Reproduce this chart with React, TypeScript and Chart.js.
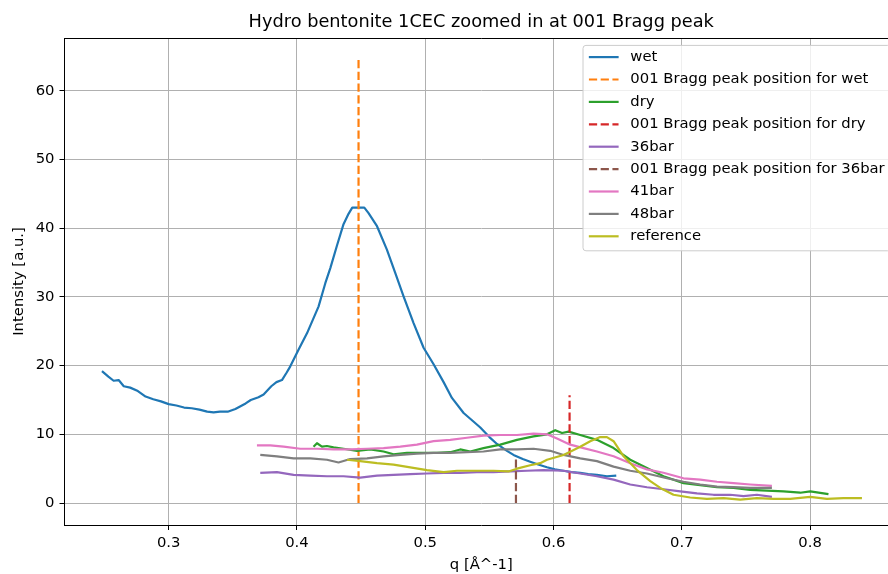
import React, { useEffect, useRef } from 'react';
import { Chart, registerables } from 'chart.js';

Chart.register(...registerables);

// ---- text ----
const chartTitle = 'Hydro bentonite 1CEC zoomed in at 001 Bragg peak';
const xAxisTitle = 'q [Å^-1]';
const yAxisTitle = 'Intensity [a.u.]';

// ---- ticks ----
const xTickValues = [0.3, 0.4, 0.5, 0.6, 0.7, 0.8];
const xTickLabels = ['0.3', '0.4', '0.5', '0.6', '0.7', '0.8'];
const yTickValues = [0, 10, 20, 30, 40, 50, 60];
const yTickLabels = ['0', '10', '20', '30', '40', '50', '60'];
const xRange = [0.2188, 0.8685];
const yRange = [-3.2, 67.7];

// ---- series: [q, intensity] ----
const wet: [number, number][] = [
  [0.2480, 19.2], [0.2530, 18.4], [0.2571, 17.8], [0.2610, 17.9], [0.2650, 17.0], [0.2700, 16.8],
  [0.2760, 16.3], [0.2820, 15.5], [0.2880, 15.1], [0.2940, 14.8], [0.3000, 14.4], [0.3060, 14.2],
  [0.3120, 13.9], [0.3180, 13.8], [0.3240, 13.6], [0.3300, 13.3], [0.3350, 13.2], [0.3400, 13.3],
  [0.3460, 13.3], [0.3520, 13.7], [0.3560, 14.1], [0.3600, 14.5], [0.3640, 15.0], [0.3700, 15.4],
  [0.3740, 15.8], [0.3800, 17.0], [0.3840, 17.6], [0.3883, 17.9], [0.3920, 19.0], [0.3948, 19.9],
  [0.4012, 22.3], [0.4078, 24.7], [0.4168, 28.6], [0.4221, 32.0], [0.4260, 34.2], [0.4312, 37.5],
  [0.4363, 40.6], [0.4402, 42.1], [0.4431, 43.0], [0.4525, 43.0], [0.4558, 42.2], [0.4624, 40.3],
  [0.4701, 36.9], [0.4766, 33.5], [0.4831, 30.1], [0.4909, 26.2], [0.4987, 22.6], [0.5065, 20.2],
  [0.5143, 17.6], [0.5208, 15.3], [0.5299, 13.1], [0.5380, 11.8], [0.5429, 11.0], [0.5500, 9.6],
  [0.5559, 8.6], [0.5637, 7.6], [0.5688, 7.0], [0.5760, 6.4], [0.5818, 6.0], [0.5880, 5.6],
  [0.5949, 5.2], [0.6010, 4.9], [0.6078, 4.7], [0.6140, 4.5], [0.6208, 4.4], [0.6270, 4.2],
  [0.6338, 4.1], [0.6416, 3.9], [0.6489, 4.0],
];

const dry: [number, number][] = [
  [0.4129, 8.2], [0.4156, 8.7], [0.4195, 8.2], [0.4234, 8.3], [0.4285, 8.1], [0.4363, 7.9],
  [0.4468, 7.6], [0.4571, 7.8], [0.4675, 7.5], [0.4753, 7.1], [0.4857, 7.3], [0.4987, 7.3],
  [0.5091, 7.3], [0.5195, 7.4], [0.5273, 7.8], [0.5351, 7.5], [0.5454, 8.0], [0.5585, 8.5],
  [0.5715, 9.2], [0.5844, 9.7], [0.5949, 10.0], [0.6013, 10.6], [0.6066, 10.2], [0.6117, 10.4],
  [0.6208, 9.9], [0.6338, 9.2], [0.6468, 8.0], [0.6598, 6.3], [0.6728, 5.1], [0.6857, 3.9],
  [0.7013, 2.9], [0.7143, 2.6], [0.7274, 2.3], [0.7403, 2.2], [0.7533, 1.9], [0.7663, 1.8],
  [0.7793, 1.7], [0.7923, 1.5], [0.8001, 1.7], [0.8143, 1.3],
];

const bar36: [number, number][] = [
  [0.3714, 4.4], [0.3844, 4.5], [0.3974, 4.1], [0.4104, 4.0], [0.4234, 3.9], [0.4363, 3.9],
  [0.4493, 3.7], [0.4624, 4.0], [0.4753, 4.1], [0.4883, 4.2], [0.5013, 4.3], [0.5143, 4.4],
  [0.5273, 4.4], [0.5403, 4.5], [0.5532, 4.5], [0.5662, 4.6], [0.5793, 4.7], [0.5922, 4.8],
  [0.6078, 4.7], [0.6208, 4.3], [0.6338, 3.9], [0.6468, 3.4], [0.6598, 2.7], [0.6728, 2.3],
  [0.6857, 2.0], [0.6988, 1.7], [0.7118, 1.4], [0.7247, 1.2], [0.7377, 1.2], [0.7481, 1.0],
  [0.7585, 1.2], [0.7702, 0.9],
];

const bar41: [number, number][] = [
  [0.3688, 8.4], [0.3792, 8.4], [0.3896, 8.2], [0.4026, 7.9], [0.4156, 7.9], [0.4285, 7.8],
  [0.4415, 7.8], [0.4546, 7.9], [0.4675, 8.0], [0.4805, 8.2], [0.4935, 8.5], [0.5065, 9.0],
  [0.5195, 9.2], [0.5325, 9.5], [0.5454, 9.8], [0.5585, 9.9], [0.5715, 9.9], [0.5844, 10.1],
  [0.5949, 10.0], [0.6027, 9.4], [0.6130, 8.5], [0.6234, 8.0], [0.6338, 7.5], [0.6468, 6.8],
  [0.6598, 5.8], [0.6728, 4.9], [0.6857, 4.4], [0.7013, 3.6], [0.7143, 3.4], [0.7274, 3.1],
  [0.7403, 2.9], [0.7533, 2.7], [0.7702, 2.5],
];

const bar48: [number, number][] = [
  [0.3714, 7.0], [0.3844, 6.8], [0.3974, 6.5], [0.4104, 6.5], [0.4234, 6.3], [0.4324, 5.9],
  [0.4415, 6.4], [0.4546, 6.5], [0.4675, 6.8], [0.4805, 7.0], [0.4935, 7.2], [0.5065, 7.3],
  [0.5195, 7.3], [0.5325, 7.4], [0.5454, 7.5], [0.5585, 7.8], [0.5715, 7.8], [0.5844, 7.9],
  [0.5974, 7.6], [0.6078, 7.0], [0.6208, 6.5], [0.6338, 6.1], [0.6468, 5.3], [0.6598, 4.7],
  [0.6728, 4.3], [0.6884, 3.6], [0.7013, 3.1], [0.7143, 2.7], [0.7274, 2.4], [0.7403, 2.3],
  [0.7533, 2.2], [0.7702, 2.2],
];

const reference: [number, number][] = [
  [0.4390, 6.3], [0.4493, 6.1], [0.4624, 5.8], [0.4753, 5.6], [0.4883, 5.2], [0.5013, 4.8],
  [0.5143, 4.5], [0.5247, 4.7], [0.5403, 4.7], [0.5532, 4.7], [0.5649, 4.6], [0.5715, 5.0],
  [0.5818, 5.5], [0.5896, 5.8], [0.5949, 6.3], [0.6078, 7.0], [0.6208, 8.2], [0.6286, 9.0],
  [0.6364, 9.6], [0.6416, 9.6], [0.6468, 9.0], [0.6546, 6.8], [0.6650, 4.8], [0.6754, 3.2],
  [0.6832, 2.2], [0.6935, 1.2], [0.7065, 0.8], [0.7196, 0.6], [0.7325, 0.7], [0.7455, 0.5],
  [0.7585, 0.7], [0.7715, 0.6], [0.7845, 0.6], [0.8001, 0.9], [0.8131, 0.6], [0.8260, 0.7],
  [0.8404, 0.7],
];

// vertical peak markers: [q, bottom], [q, top]
const peakWet: [number, number][] = [[0.448, 0], [0.448, 64.5]];
const peakDry: [number, number][] = [[0.6125, 0], [0.6125, 15.7]];
const peak36: [number, number][] = [[0.5707, 0], [0.5707, 6.5]];

const seriesLabels = [
  'wet', '001 Bragg peak position for wet', 'dry', '001 Bragg peak position for dry',
  '36bar', '001 Bragg peak position for 36bar', '41bar', '48bar', 'reference',
];
const seriesData = [wet, peakWet, dry, peakDry, bar36, peak36, bar41, bar48, reference];
const seriesColors = [
  '#1f77b4', '#ff7f0e', '#2ca02c', '#d62728', '#9467bd', '#8c564b', '#e377c2', '#7f7f7f', '#bcbd22',
];
const seriesDashed = [false, true, false, true, false, true, false, false, false];

const FONT = '"DejaVu Sans", sans-serif';
const FS = 14.8;
const LW = 2.2;
const DASH = [8.2, 3.55];

export default function App() {
  const canvasRef = useRef<HTMLCanvasElement>(null);

  useEffect(() => {
    const canvas = canvasRef.current;
    if (!canvas) return;

    const datasets = seriesData.map((pts, i) => ({
      label: seriesLabels[i],
      data: pts.map(([x, y]) => ({ x, y })),
      borderColor: seriesColors[i],
      backgroundColor: seriesColors[i],
      borderWidth: LW,
      borderDash: seriesDashed[i] ? DASH : [],
      borderCapStyle: 'butt' as const,
      borderJoinStyle: 'round' as const,
      pointRadius: 0,
      pointHoverRadius: 0,
      fill: false,
      tension: 0,
      order: seriesData.length - i,
    }));

    const decor = {
      id: 'mplDecor',
      afterDraw(chart: any) {
        const { ctx, chartArea } = chart;
        const a = chartArea;
        ctx.save();
        // top spine
        ctx.strokeStyle = '#000';
        ctx.lineWidth = 1;
        ctx.beginPath();
        ctx.moveTo(a.left, Math.round(a.top) + 0.5);
        ctx.lineTo(a.right, Math.round(a.top) + 0.5);
        ctx.stroke();
        // right spine
        ctx.beginPath();
        ctx.moveTo(a.right - 0.5, a.top);
        ctx.lineTo(a.right - 0.5, a.bottom);
        ctx.stroke();

        // title
        ctx.fillStyle = '#000';
        ctx.font = `${FS * 1.2}px ${FONT}`;
        ctx.textAlign = 'center';
        ctx.textBaseline = 'alphabetic';
        ctx.fillText(chartTitle, (a.left + a.right) / 2, 26.5);

        // legend
        ctx.font = `${FS}px ${FONT}`;
        let maxW = 0;
        seriesLabels.forEach((l) => {
          maxW = Math.max(maxW, ctx.measureText(l).width);
        });
        const pad = 0.4 * FS;
        const handleLen = 2 * FS;
        const textPad = 0.8 * FS;
        const boxW = pad * 2 + handleLen + textPad + maxW;
        const boxRight = a.right - 0.5 * FS;
        const boxLeft = boxRight - boxW;
        const boxTop = a.top + 0.5 * FS;
        const rowH = 22.4;
        const boxH = 205.4;
        const r = 0.2 * FS;
        ctx.beginPath();
        ctx.moveTo(boxLeft + r, boxTop);
        ctx.lineTo(boxLeft + boxW - r, boxTop);
        ctx.arcTo(boxLeft + boxW, boxTop, boxLeft + boxW, boxTop + r, r);
        ctx.lineTo(boxLeft + boxW, boxTop + boxH - r);
        ctx.arcTo(boxLeft + boxW, boxTop + boxH, boxLeft + boxW - r, boxTop + boxH, r);
        ctx.lineTo(boxLeft + r, boxTop + boxH);
        ctx.arcTo(boxLeft, boxTop + boxH, boxLeft, boxTop + boxH - r, r);
        ctx.lineTo(boxLeft, boxTop + r);
        ctx.arcTo(boxLeft, boxTop, boxLeft + r, boxTop, r);
        ctx.closePath();
        ctx.fillStyle = 'rgba(255,255,255,0.8)';
        ctx.fill();
        ctx.strokeStyle = '#cccccc';
        ctx.lineWidth = 1;
        ctx.stroke();

        ctx.textAlign = 'left';
        ctx.textBaseline = 'middle';
        seriesLabels.forEach((label, i) => {
          const y = boxTop + 11.7 + i * rowH;
          const hx = boxLeft + pad;
          ctx.strokeStyle = seriesColors[i];
          ctx.lineWidth = LW;
          ctx.setLineDash(seriesDashed[i] ? DASH : []);
          ctx.lineCap = seriesDashed[i] ? 'butt' : 'square';
          ctx.beginPath();
          ctx.moveTo(hx + (seriesDashed[i] ? 0 : 1), y);
          ctx.lineTo(hx + handleLen - (seriesDashed[i] ? 0 : 1), y);
          ctx.stroke();
          ctx.setLineDash([]);
          ctx.fillStyle = '#000';
          ctx.fillText(label, hx + handleLen + textPad, y);
        });
        ctx.restore();
      },
    };

    const tickFont = { family: FONT, size: FS };

    const chart = new Chart(canvas, {
      type: 'line',
      data: { datasets } as any,
      options: {
        animation: false,
        responsive: false,
        devicePixelRatio: 1,
        events: [],
        layout: { padding: { top: 38, right: 0, bottom: 0, left: 0 } },
        plugins: {
          legend: { display: false },
          title: { display: false },
          tooltip: { enabled: false },
        },
        scales: {
          x: {
            type: 'linear',
            min: xRange[0],
            max: xRange[1],
            afterBuildTicks: (s: any) => {
              s.ticks = xTickValues.map((v) => ({ value: v }));
            },
            afterFit: (s: any) => {
              s.height = 49;
            },
            ticks: {
              callback: (_v: any, i: number) => xTickLabels[i],
              font: tickFont,
              color: '#000',
              padding: 4,
              maxRotation: 0,
              autoSkip: false,
            },
            grid: { color: '#b0b0b0', lineWidth: 1, tickLength: 5, tickColor: '#000', tickWidth: 1 },
            border: { display: true, color: '#000', width: 1 },
            title: {
              display: true,
              text: xAxisTitle,
              font: tickFont,
              color: '#000',
              padding: { top: 0, bottom: 0 },
            },
          },
          y: {
            type: 'linear',
            min: yRange[0],
            max: yRange[1],
            afterBuildTicks: (s: any) => {
              s.ticks = yTickValues.map((v) => ({ value: v }));
            },
            afterFit: (s: any) => {
              s.width = 64.5;
            },
            ticks: {
              callback: (_v: any, i: number) => yTickLabels[i],
              font: tickFont,
              color: '#000',
              padding: 5,
              autoSkip: false,
            },
            grid: { color: '#b0b0b0', lineWidth: 1, tickLength: 5, tickColor: '#000', tickWidth: 1 },
            border: { display: true, color: '#000', width: 1 },
            title: {
              display: true,
              text: yAxisTitle,
              font: tickFont,
              color: '#000',
              padding: { top: 10, bottom: 0 },
            },
          },
        },
      } as any,
      plugins: [decor],
    });

    return () => {
      chart.destroy();
    };
  }, []);

  return (
    <div
      style={{
        position: 'absolute',
        left: 0,
        top: 0,
        width: 888,
        height: 574,
        overflow: 'hidden',
        background: '#fff',
      }}
    >
      <canvas ref={canvasRef} width={898} height={574} style={{ display: 'block' }} />
    </div>
  );
}
